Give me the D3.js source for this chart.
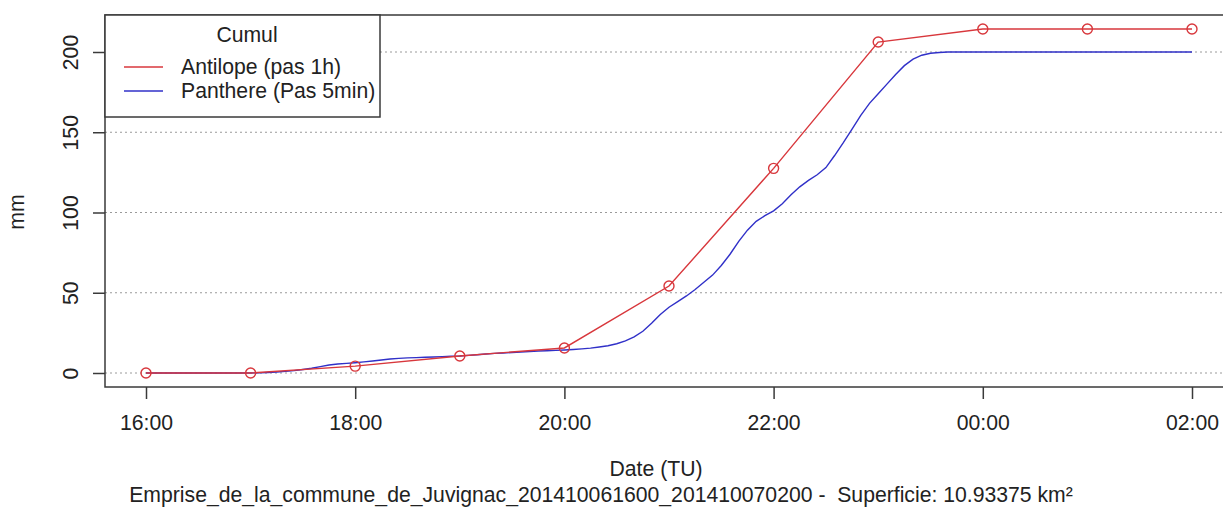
<!DOCTYPE html>
<html>
<head>
<meta charset="utf-8">
<script src="https://cdn.jsdelivr.net/npm/d3@7"></script>
<style>
  html, body { margin: 0; padding: 0; background: #fff; }
  svg { display: block; font-family: "Liberation Sans", Arial, sans-serif; }
  text { white-space: pre; }
</style>
</head>
<body>
<svg id="chart" width="1223" height="513"></svg>
<script>
// ---------------- DATA ----------------
const startTime = new Date(2014, 9, 6, 16, 0);
const xTickLabels = ["16:00", "18:00", "20:00", "22:00", "00:00", "02:00"];
const yTicks = [0, 50, 100, 150, 200];

// Antilope (pas 1h) — hourly cumulative rainfall, 16:00 -> 02:00
const antilopeValues = [0, 0, 4.3, 10.6, 15.6, 54.2, 127.5, 206.2, 214.3, 214.3, 214.3];

// Panthere (Pas 5min) — 5-minute cumulative rainfall, 16:00 -> 02:00
const panthereValues = [
  0, 0, 0, 0, 0, 0, 0, 0, 0, 0, 0, 0,            // 16:00 - 16:55
  0, 0.1, 0.3, 0.6, 1.0, 1.5, 2.2, 3.0, 4.0, 5.0, 5.6, 6.0,   // 17:00 - 17:55
  6.4, 6.9, 7.5, 8.1, 8.7, 9.1, 9.4, 9.6, 9.8, 10.0, 10.2, 10.4, // 18:00 - 18:55
  10.6, 11.0, 11.4, 11.8, 12.2, 12.5, 12.8, 13.1, 13.4, 13.7, 13.9, 14.1, // 19:00 - 19:55
  14.3, 14.6, 15.0, 15.5, 16.2, 17.0, 18.2, 20.0, 22.5, 26.0, 31.0, 36.5, // 20:00 - 20:55
  41.0, 44.5, 48.0, 52.0, 56.5, 61.0, 67.0, 74.0, 82.0, 89.0, 94.5, 98.0, // 21:00 - 21:55
  101.0, 105.5, 111.0, 116.0, 120.0, 123.5, 128.0, 135.5, 143.5, 152.0, 160.5, 168.0, // 22:00 - 22:55
  174.0, 180.0, 186.0, 191.5, 195.5, 198.0, 199.2, 199.7, 200, 200, 200, 200, // 23:00 - 23:55
  200, 200, 200, 200, 200, 200, 200, 200, 200, 200, 200, 200, // 00:00 - 00:55
  200, 200, 200, 200, 200, 200, 200, 200, 200, 200, 200, 200, // 01:00 - 01:55
  200                                                           // 02:00
];

const legendTitle = "Cumul";
const seriesNames = ["Antilope (pas 1h)", "Panthere (Pas 5min)"];
const yLabel = "mm";
const xLabel = "Date (TU)";
const subTitle = "Emprise_de_la_commune_de_Juvignac_201410061600_201410070200 -  Superficie: 10.93375 km²";

// ---------------- BUILD ----------------
const antilope = antilopeValues.map((v, i) => ({ t: d3.timeHour.offset(startTime, i), v }));
const panthere = panthereValues.map((v, i) => ({ t: d3.timeMinute.offset(startTime, i * 5), v }));

const colRed = "#d8373c";
const colBlue = "#3030c8";
const frameCol = "#3a3a3a";
const textCol = "#222";
const fs = 21.2;

const svg = d3.select("#chart");
const box = { left: 105, top: 15, right: 1240, bottom: 387 };

const x = d3.scaleTime()
  .domain([startTime, d3.timeHour.offset(startTime, 10)])
  .range([146, 1192]);
const y = d3.scaleLinear().domain([0, 200]).range([373, 52]);

// grid
svg.append("g").selectAll("line").data(yTicks).join("line")
  .attr("x1", box.left).attr("x2", box.right)
  .attr("y1", d => y(d)).attr("y2", d => y(d))
  .attr("stroke", "#9a9a9a").attr("stroke-width", 1)
  .attr("stroke-dasharray", "2,3");

// series lines
const line = d3.line().x(d => x(d.t)).y(d => y(d.v));
svg.append("path").datum(panthere).attr("d", line)
  .attr("fill", "none").attr("stroke", colBlue).attr("stroke-width", 1.4);
svg.append("path").datum(antilope).attr("d", line)
  .attr("fill", "none").attr("stroke", colRed).attr("stroke-width", 1.4);
svg.append("g").selectAll("circle").data(antilope).join("circle")
  .attr("cx", d => x(d.t)).attr("cy", d => y(d.v)).attr("r", 5)
  .attr("fill", "none").attr("stroke", colRed).attr("stroke-width", 1.4);

// frame
svg.append("rect")
  .attr("x", box.left).attr("y", box.top)
  .attr("width", box.right - box.left).attr("height", box.bottom - box.top)
  .attr("fill", "none").attr("stroke", frameCol).attr("stroke-width", 1.5);

// x axis
const xTickVals = xTickLabels.map((_, i) => d3.timeHour.offset(startTime, i * 2));
const xAxis = d3.axisBottom(x).tickValues(xTickVals)
  .tickFormat((d, i) => xTickLabels[i]).tickSize(12).tickPadding(16);
const gx = svg.append("g").attr("transform", `translate(0,${box.bottom})`).call(xAxis);
gx.select(".domain").remove();
gx.selectAll(".tick line").attr("stroke", frameCol).attr("stroke-width", 1.5);
gx.selectAll(".tick text").attr("font-size", fs).attr("fill", textCol)
  .attr("font-family", "Liberation Sans, Arial, sans-serif");

// y axis
const yAxis = d3.axisLeft(y).tickValues(yTicks).tickSize(12).tickPadding(12);
const gy = svg.append("g").attr("transform", `translate(${box.left},0)`).call(yAxis);
gy.select(".domain").remove();
gy.selectAll(".tick line").attr("stroke", frameCol).attr("stroke-width", 1.5);
gy.selectAll(".tick text")
  .attr("font-size", fs).attr("fill", textCol)
  .attr("font-family", "Liberation Sans, Arial, sans-serif")
  .attr("text-anchor", "middle")
  .attr("x", null)
  .attr("transform", "translate(-34,0) rotate(-90)")
  .attr("dy", "0.35em");

// axis titles
svg.append("text").attr("transform", "translate(24,212) rotate(-90)")
  .attr("text-anchor", "middle").attr("font-size", fs).attr("fill", textCol).text(yLabel);
svg.append("text").attr("x", 656).attr("y", 476)
  .attr("text-anchor", "middle").attr("font-size", fs).attr("fill", textCol).text(xLabel);
svg.append("text").attr("x", 601).attr("y", 502)
  .attr("text-anchor", "middle").attr("font-size", fs).attr("fill", textCol).text(subTitle);

// legend
const lg = svg.append("g");
lg.append("rect").attr("x", box.left).attr("y", box.top).attr("width", 275).attr("height", 102)
  .attr("fill", "#fff").attr("stroke", frameCol).attr("stroke-width", 1.5);
lg.append("text").attr("x", 247).attr("y", 42).attr("text-anchor", "middle")
  .attr("font-size", fs).attr("fill", textCol).text(legendTitle);
const legendCols = [colRed, colBlue];
const items = lg.selectAll("g.item").data(seriesNames).join("g")
  .attr("transform", (d, i) => `translate(0,${67 + i * 24})`);
items.append("line").attr("x1", 124).attr("x2", 163).attr("y1", 0).attr("y2", 0)
  .attr("stroke", (d, i) => legendCols[i]).attr("stroke-width", 1.4);
items.append("text").attr("x", 181).attr("dy", "0.35em")
  .attr("font-size", fs).attr("fill", textCol).text(d => d);
</script>
</body>
</html>
